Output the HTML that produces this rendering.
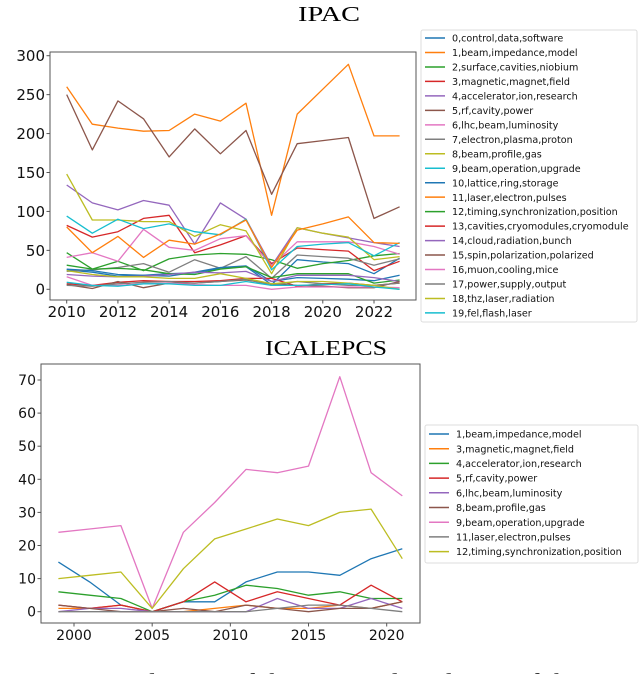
<!DOCTYPE html>
<html><head><meta charset="utf-8">
<style>
html,body{margin:0;padding:0;background:#fff;overflow:hidden;}
svg{display:block;font-family:"DejaVu Sans","Liberation Sans",sans-serif;}
</style></head>
<body>
<svg id="fig" width="640" height="674" viewBox="0 0 640 674" xmlns="http://www.w3.org/2000/svg">
<text x="298" y="21" font-family="Liberation Serif, serif" font-size="21" textLength="62" lengthAdjust="spacingAndGlyphs">IPAC</text>
<text x="265" y="355" font-family="Liberation Serif, serif" font-size="21" textLength="122" lengthAdjust="spacingAndGlyphs">ICALEPCS</text>
<text x="0" y="688" font-family="Liberation Serif, serif" font-size="21" fill="#222" textLength="640" lengthAdjust="spacingAndGlyphs">Figure 2: Evaluation of the temporal evolution of the most</text>
<g id="top"></g>
<g id="bot"></g>
</svg>
<script>
const C=['#1f77b4','#ff7f0e','#2ca02c','#d62728','#9467bd','#8c564b','#e377c2','#7f7f7f','#bcbd22','#17becf'];
const topYears=[2010,2011,2012,2013,2014,2015,2016,2017,2018,2019,2020,2021,2022,2023];
const topLabels=['0,control,data,software','1,beam,impedance,model','2,surface,cavities,niobium','3,magnetic,magnet,field','4,accelerator,ion,research','5,rf,cavity,power','6,lhc,beam,luminosity','7,electron,plasma,proton','8,beam,profile,gas','9,beam,operation,upgrade','10,lattice,ring,storage','11,laser,electron,pulses','12,timing,synchronization,position','13,cavities,cryomodules,cryomodule','14,cloud,radiation,bunch','15,spin,polarization,polarized','16,muon,cooling,mice','17,power,supply,output','18,thz,laser,radiation','19,fel,flash,laser'];
const t0=[25,22,17,18,20,21,27,29,6,38,35,33,20,40];
const t1=[260,212,207,203,204,225,216,239,95,225,257,289,197,197];
const t2=[47,26,36,24,39,44,46,45,38,27,33,37,43,46];
const t3=[82,67,74,91,95,47,57,69,33,53,51,49,24,36];
const t4=[134,111,102,114,108,58,111,90,30,79,72,66,60,55];
const t5=[250,179,242,219,170,206,174,204,122,187,191,195,91,106];
const t6=[41,47,36,77,54,50,65,69,30,61,61,61,55,45];
const t7=[23,25,28,33,22,38,27,42,14,44,42,40,31,39];
const t8=[148,89,89,87,87,68,83,75,20,79,72,67,38,42];
const t9=[94,72,90,78,84,74,70,90,25,55,58,60,43,60];
const t10=[26,24,19,18,17,22,28,30,10,15,14,13,11,18];
const t11=[80,47,68,41,63,58,71,89,28,76,84,93,60,59];
const t12=[31,26,27,25,20,19,26,29,15,20,20,20,8,12];
const t13=[7,5,9,11,10,10,11,14,14,4,7,8,5,8];
const t14=[19,17,16,17,19,22,21,23,10,18,18,18,15,10];
const t15=[6,1,10,2,8,8,10,12,7,5,4,2,2,10];
const t16=[16,5,5,7,8,6,5,5,0,3,3,3,3,2];
const t17=[5,4,7,9,10,8,10,13,5,10,7,5,5,8];
const t18=[24,19,16,16,14,14,20,14,7,10,10,8,5,0];
const t19=[9,5,4,7,7,5,5,10,5,5,6,7,3,0];
const topSeries=[t0,t1,t2,t3,t4,t5,t6,t7,t8,t9,t10,t11,t12,t13,t14,t15,t16,t17,t18,t19];
const topXTicks=[2010,2012,2014,2016,2018,2020,2022];
const topYTicks=[0,50,100,150,200,250,300];

const botYears=[1999,2001,2003,2005,2007,2009,2011,2013,2015,2017,2019,2021];
const botLabels=['1,beam,impedance,model','3,magnetic,magnet,field','4,accelerator,ion,research','5,rf,cavity,power','6,lhc,beam,luminosity','8,beam,profile,gas','9,beam,operation,upgrade','11,laser,electron,pulses','12,timing,synchronization,position'];
const botColorIdx=[0,1,2,3,4,5,6,7,8];
const b1=[15,9,2,0,3,3,9,12,12,11,16,19];
const b3=[1,1,2,0,0,1,2,1,1,2,1,3];
const b4=[6,5,4,0,3,5,8,7,5,6,4,4];
const b5=[2,1,2,0,3,9,3,6,4,2,8,3];
const b6=[0,1,1,0,0,0,0,4,1,1,4,1];
const b8=[2,1,0,0,1,0,2,1,0,1,1,3];
const b9=[24,25,26,1,24,33,43,42,44,71,42,35];
const b11=[0,0,0,0,0,0,0,1,2,2,1,0];
const b12=[10,11,12,1,13,22,25,28,26,30,31,16];
const botSeries=[b1,b3,b4,b5,b6,b8,b9,b11,b12];
const botXTicks=[2000,2005,2010,2015,2020];
const botYTicks=[0,10,20,30,40,50,60,70];

const NS='http://www.w3.org/2000/svg';
function mk(p,tag,a){const e=document.createElementNS(NS,tag);for(const k in a)e.setAttribute(k,a[k]);p.appendChild(e);return e;}

function chart(g,cfg){
  const sx=v=>cfg.x0+(v-cfg.xa)*(cfg.x1-cfg.x0)/(cfg.xb-cfg.xa);
  const sy=v=>cfg.y0+(v-cfg.ya)*(cfg.y1-cfg.y0)/(cfg.yb-cfg.ya);
  cfg.series.forEach((s,i)=>{
    const pts=s.map((v,j)=>sx(cfg.years[j]).toFixed(1)+','+sy(v).toFixed(1)).join(' ');
    const pl=mk(g,'polyline',{points:pts,fill:'none',stroke:C[cfg.colors[i]%10],'stroke-width':1.3,'stroke-linejoin':'round'});
    
    
  });
  const fr=mk(g,'rect',{x:cfg.L,y:cfg.T,width:cfg.R-cfg.L,height:cfg.B-cfg.T,fill:'none',stroke:'#555','stroke-width':1});
  
  
  cfg.xticks.forEach(t=>{
    const x=sx(t);
    mk(g,'line',{x1:x,x2:x,y1:cfg.B,y2:cfg.B+3.5,stroke:'#555'});
    const tx=mk(g,'text',{x:x,y:cfg.B+17,'font-size':cfg.fs,'text-anchor':'middle',fill:'#111'});
    tx.textContent=t;
    
    
  });
  cfg.yticks.forEach(t=>{
    const y=sy(t);
    mk(g,'line',{x1:cfg.L-3.5,x2:cfg.L,y1:y,y2:y,stroke:'#555'});
    const tx=mk(g,'text',{x:cfg.L-5,y:y+cfg.fs*0.36,'font-size':cfg.fs,'text-anchor':'end',fill:'#111'});
    tx.textContent=t;
    
    
  });
  const lg=mk(g,'g',{});
  
  
  mk(lg,'rect',{x:cfg.lx,y:cfg.ly,width:cfg.lw,height:cfg.lh,rx:2,fill:'#fff',stroke:'#ddd'});
  cfg.labels.forEach((lab,i)=>{
    const y=cfg.ly+cfg.lfirst+i*cfg.lstep;
    mk(lg,'line',{x1:cfg.lx+4,x2:cfg.lx+24,y1:y,y2:y,stroke:C[cfg.colors[i]%10],'stroke-width':1.5});
    const tx=mk(lg,'text',{x:cfg.lx+31,y:y+3.6,'font-size':cfg.lfs,fill:'#111'});
    tx.textContent=lab;
    
    
  });
}
chart(document.getElementById('top'),{series:topSeries,years:topYears,labels:topLabels,colors:topSeries.map((_,i)=>i),
  xa:2010,xb:2022,x0:66.7,x1:374,ya:0,yb:300,y0:289.3,y1:55.7,L:50,R:416,T:52,B:300,xticks:topXTicks,yticks:topYTicks,fs:15,
  lx:421,ly:30,lw:216,lh:292,lfirst:8,lstep:14.47,lfs:9.6});
chart(document.getElementById('bot'),{series:botSeries,years:botYears,labels:botLabels,colors:botColorIdx,
  xa:2000,xb:2020,x0:74,x1:386.7,ya:0,yb:70,y0:611.7,y1:380,L:41,R:420,T:364,B:623,xticks:botXTicks,yticks:botYTicks,fs:14,
  lx:425,ly:425,lw:213,lh:138,lfirst:9,lstep:14.7,lfs:9.6});
</script>
</body></html>
